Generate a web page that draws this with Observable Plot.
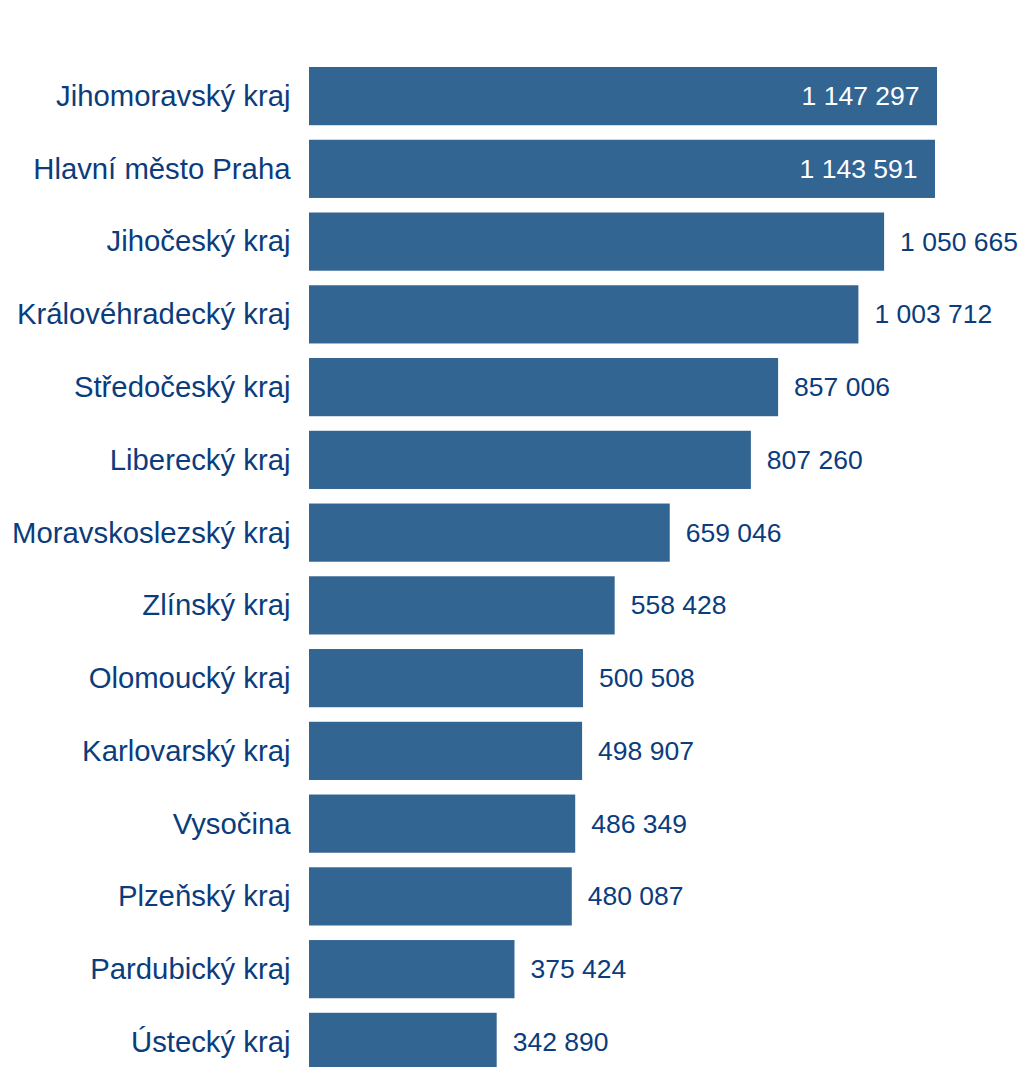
<!DOCTYPE html>
<html>
<head>
<meta charset="utf-8">
<script src="https://cdn.jsdelivr.net/npm/d3@7"></script>
<script src="https://cdn.jsdelivr.net/npm/@observablehq/plot@0.6"></script>
<style>
  html, body { margin: 0; padding: 0; background: #fff; overflow: hidden; }
  #chart svg { display: block; }
</style>
</head>
<body>
<div id="chart"></div>
<script>
const regions = [
  "Jihomoravský kraj",
  "Hlavní město Praha",
  "Jihočeský kraj",
  "Královéhradecký kraj",
  "Středočeský kraj",
  "Liberecký kraj",
  "Moravskoslezský kraj",
  "Zlínský kraj",
  "Olomoucký kraj",
  "Karlovarský kraj",
  "Vysočina",
  "Plzeňský kraj",
  "Pardubický kraj",
  "Ústecký kraj"
];
const values = [
  1147297, 1143591, 1050665, 1003712, 857006, 807260, 659046,
  558428, 500508, 498907, 486349, 480087, 375424, 342890
];

const data = regions.map((r, i) => ({region: r, value: values[i]}));
const maxV = d3.max(values);
const fmt = d3.formatLocale({decimal: ",", thousands: " ", grouping: [3], currency: ["", ""]}).format(",d");
const inside = d => d.value > 0.95 * maxV;

const textColor = "#0b3c7c";
const barColor = "#336593";

const chart = Plot.plot({
  width: 1024,
  height: 1067,
  marginTop: 67,
  marginBottom: -4,
  marginLeft: 309,
  marginRight: 87,
  style: {fontFamily: "'Liberation Sans', Arial, sans-serif", fontSize: "26px", color: textColor, background: "#fff"},
  x: {domain: [0, maxV], axis: null},
  y: {domain: regions, padding: 0.2, paddingOuter: 0, round: false, label: null, axis: null},
  marks: [
    Plot.barX(data, {x: "value", y: "region", fill: barColor}),
    Plot.text(data.filter(inside), {
      x: "value", y: "region", text: d => fmt(d.value),
      textAnchor: "end", dx: -18, fill: "white", fontSize: 26.5
    }),
    Plot.text(data.filter(d => !inside(d)), {
      x: "value", y: "region", text: d => fmt(d.value),
      textAnchor: "start", dx: 15.5, fill: textColor, fontSize: 26.5
    }),
    Plot.axisY({tickSize: 0, tickPadding: 19, fontSize: 29.3, fill: textColor, label: null})
  ]
});
document.getElementById("chart").appendChild(chart);
</script>
</body>
</html>
